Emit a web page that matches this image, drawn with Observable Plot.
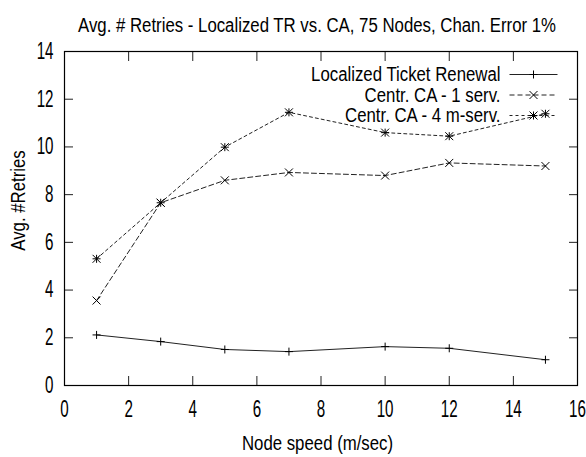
<!DOCTYPE html>
<html>
<head>
<meta charset="utf-8">
<script src="https://cdn.jsdelivr.net/npm/d3@7"></script>
<script src="https://cdn.jsdelivr.net/npm/@observablehq/plot@0.6"></script>
<style>
  html, body { margin: 0; padding: 0; background: #fff; }
</style>
</head>
<body>
<div id="chart"></div>
<script>
const title = "Avg. # Retries - Localized TR vs. CA, 75 Nodes, Chan. Error 1%";
const xLabel = "Node speed (m/sec)";
const yLabel = "Avg. #Retries";
const xTicks = [0, 2, 4, 6, 8, 10, 12, 14, 16];
const yTicks = [0, 2, 4, 6, 8, 10, 12, 14];

const speeds = [1, 3, 5, 7, 10, 12, 15];
const seriesNames = ["Localized Ticket Renewal", "Centr. CA - 1 serv.", "Centr. CA - 4 m-serv."];
const localized = [2.12, 1.84, 1.51, 1.42, 1.63, 1.56, 1.08];
const centr1 = [3.56, 7.66, 8.60, 8.93, 8.80, 9.33, 9.20];
const centr4 = [5.31, 7.66, 9.99, 11.45, 10.60, 10.45, 11.39];

const seriesValues = [localized, centr1, centr4];
const dashes = [null, "5,3", "3,3"];
const symbols = [["plus"], ["times"], ["plus", "times"]];
const ink = "#222";
const fs = 21;
const tickFs = 23;

const seriesData = seriesValues.map((vals, k) => speeds.map((x, i) => ({x, y: vals[i], series: seriesNames[k]})));

const sampleLine = {draw(ctx) { ctx.moveTo(-24, 0); ctx.lineTo(24, 0); }};
const symR = {plus: 2.7, times: 3.7};

const marks = [];
marks.push(Plot.axisX(xTicks, {anchor: "bottom", tickSize: -9, tickFormat: () => "", label: null, stroke: ink}));
marks.push(Plot.axisX(xTicks.slice(1, -1), {anchor: "top", tickSize: -9, tickFormat: () => "", label: null, stroke: ink}));
marks.push(Plot.axisY(yTicks, {anchor: "left", tickSize: -9, tickFormat: () => "", label: null, stroke: ink}));
marks.push(Plot.axisY(yTicks.slice(1, -1), {anchor: "right", tickSize: -9, tickFormat: () => "", label: null, stroke: ink}));
marks.push(Plot.axisX(xTicks, {anchor: "bottom", tickSize: 0, tickPadding: 15, label: null, fontSize: tickFs, fill: "#000"}));
marks.push(Plot.axisY(yTicks, {anchor: "left", tickSize: 0, tickPadding: 11, label: null, fontSize: tickFs, fill: "#000"}));
marks.push(Plot.frame({stroke: "#000", strokeWidth: 1.2}));

seriesData.forEach((d, k) => {
  marks.push(Plot.line(d, {x: "x", y: "y", stroke: ink, strokeWidth: 1, strokeDasharray: dashes[k]}));
  symbols[k].forEach(s => marks.push(Plot.dot(d, {x: "x", y: "y", symbol: s, r: symR[s], stroke: "#000", strokeWidth: 1})));
});

seriesNames.forEach((name, k) => {
  const dy = 23 + k * 20.5;
  marks.push(Plot.text([name], {frameAnchor: "top-right", dx: -77, dy, textAnchor: "end", lineAnchor: "middle", fontSize: fs, fill: "#000"}));
  marks.push(Plot.dot([name], {frameAnchor: "top-right", dx: -44, dy, symbol: sampleLine, stroke: ink, strokeWidth: 1, strokeDasharray: dashes[k]}));
  symbols[k].forEach(s => marks.push(Plot.dot([name], {frameAnchor: "top-right", dx: -44, dy, symbol: s, r: symR[s], stroke: "#000", strokeWidth: 1})));
});

marks.push(Plot.text([title], {frameAnchor: "top", dy: -26.5, dx: -4, textAnchor: "middle", lineAnchor: "middle", fontSize: fs, fill: "#000"}));
marks.push(Plot.text([xLabel], {frameAnchor: "bottom", dy: 57.5, dx: -3.5, textAnchor: "middle", lineAnchor: "middle", fontSize: fs, fill: "#000"}));
marks.push(Plot.text([yLabel], {frameAnchor: "left", dx: -46, dy: -18, rotate: -90, textAnchor: "middle", lineAnchor: "middle", fontSize: fs, fill: "#000"}));

const chart = Plot.plot({
  width: 586,
  height: 457,
  marginLeft: 64,
  marginRight: 9,
  marginTop: 51,
  marginBottom: 72,
  x: {domain: [0, 16]},
  y: {domain: [0, 14]},
  style: {background: "#fff", color: "#000", fontFamily: "'Liberation Sans', Arial, sans-serif"},
  marks
});

// condense the glyphs horizontally (narrow Helvetica look), keeping each anchor in place
d3.select(chart).selectAll("text").each(function () {
  const g = this.closest("g[aria-label]");
  const isTick = g && /tick label/.test(g.getAttribute("aria-label") || "");
  const s = isTick ? 0.66 : 0.8;
  let t = this.getAttribute("transform");
  if (!t) {
    const x = +(this.getAttribute("x") || 0), y = +(this.getAttribute("y") || 0);
    this.removeAttribute("x"); this.removeAttribute("y");
    t = `translate(${x},${y})`;
  }
  this.setAttribute("transform", `${t} scale(${s},1)`);
});

document.getElementById("chart").appendChild(chart);
</script>
</body>
</html>
